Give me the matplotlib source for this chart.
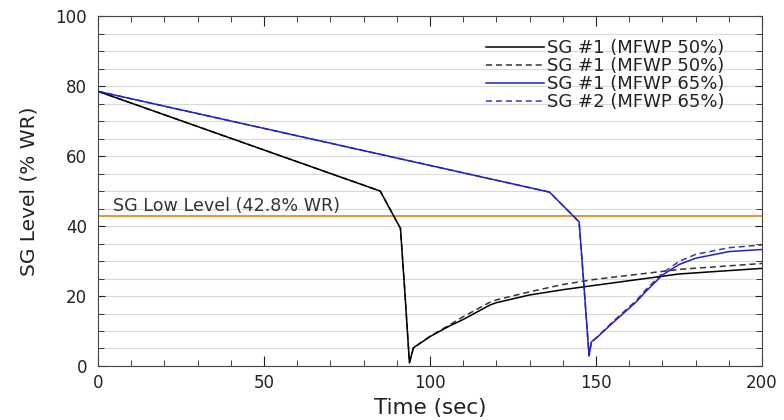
import matplotlib
matplotlib.use("Agg")
import matplotlib.pyplot as plt
from matplotlib.ticker import MultipleLocator

plt.rcParams['font.family'] = ['DejaVu Sans']

# SG #1 (MFWP 50%) solid
t_a = [0, 85, 91.1, 92.5, 93.8, 95.0, 100, 106, 110, 118, 120, 130, 140, 150, 175, 200]
y_a = [78.5, 50, 39.3, 20, 0.9, 5.2, 8.4, 11.5, 13.3, 17.4, 18.1, 20.3, 21.8, 23.1, 26.3, 27.9]
# SG #1 (MFWP 50%) dashed
t_b = [0, 85, 91.1, 92.5, 93.8, 95.0, 100, 106, 110, 118, 120, 130, 140, 150, 175, 200]
y_b = [78.5, 50, 39.3, 20, 0.9, 5.2, 8.5, 11.8, 14.1, 18.2, 18.9, 21.2, 23.3, 24.8, 27.6, 29.3]
# SG #1 (MFWP 65%) solid blue
t_c = [0, 136, 144.9, 146.2, 147.9, 148.6, 150, 155, 162.2, 165, 170, 175, 180, 190, 200]
y_c = [78.5, 49.7, 41.2, 25, 2.9, 6.9, 7.9, 12.3, 18.4, 21.3, 26, 29.0, 30.8, 32.7, 33.3]
# SG #2 (MFWP 65%) dashed blue
t_d = [0, 136, 144.9, 146.2, 147.9, 148.6, 150, 155, 162.2, 165, 170, 175, 180, 190, 200]
y_d = [78.5, 49.7, 41.2, 25, 2.9, 6.9, 8.0, 12.6, 18.8, 21.8, 26.5, 29.9, 31.9, 33.8, 34.6]

low_level = 42.8
labels = ["SG #1 (MFWP 50%)", "SG #1 (MFWP 50%)", "SG #1 (MFWP 65%)", "SG #2 (MFWP 65%)"]

fig = plt.figure(figsize=(7.84, 4.2), dpi=100)
ax = fig.add_axes([0.125, 0.1286, 0.847, 0.833])

ax.yaxis.set_minor_locator(MultipleLocator(5))
ax.xaxis.set_minor_locator(MultipleLocator(10))
ax.grid(True, which='both', axis='y', color='#d9d9d9', lw=0.8)
ax.set_axisbelow(True)

ax.axhline(low_level, color='#E39A3B', lw=1.5, zorder=2)
ax.text(4.5, 44.4, "SG Low Level (42.8% WR)", fontsize=12.6, color='#333333')

ax.plot(t_a, y_a, color='black', lw=1.1, label=labels[0], zorder=4)
ax.plot(t_b, y_b, color='#333333', lw=1.1, ls=(0, (4, 2.5)), label=labels[1], zorder=3)
ax.plot(t_c, y_c, color='#2222c4', lw=1.1, label=labels[2], zorder=4)
ax.plot(t_d, y_d, color='#3a3aaa', lw=1.1, ls=(0, (4, 2.5)), label=labels[3], zorder=3)

ax.set_xlim(0, 200)
ax.set_ylim(0, 100)
ax.set_xticks([0, 50, 100, 150, 200])
ax.set_yticks([0, 20, 40, 60, 80, 100])
ax.tick_params(which='both', direction='in', top=True, right=True, labelsize=12,
               colors='#222222')
ax.tick_params(axis='x', which='major', length=7, pad=6)
ax.tick_params(axis='y', which='major', length=5, pad=8)
ax.tick_params(which='minor', length=4)
for s in ax.spines.values():
    s.set_color('#444444')

ax.set_xlabel("Time (sec)", fontsize=15.5, labelpad=4, color='#222222')
ax.set_ylabel("SG Level (% WR)", fontsize=14.5, labelpad=12, color='#222222')

leg = ax.legend(loc='upper right', bbox_to_anchor=(0.955, 0.955), frameon=False,
                fontsize=13, handlelength=3.2, labelspacing=0.0, handletextpad=0.2,
                borderaxespad=0.0)
for txt in leg.get_texts():
    txt.set_color('#222222')

fig.savefig("out.png", dpi=100)
